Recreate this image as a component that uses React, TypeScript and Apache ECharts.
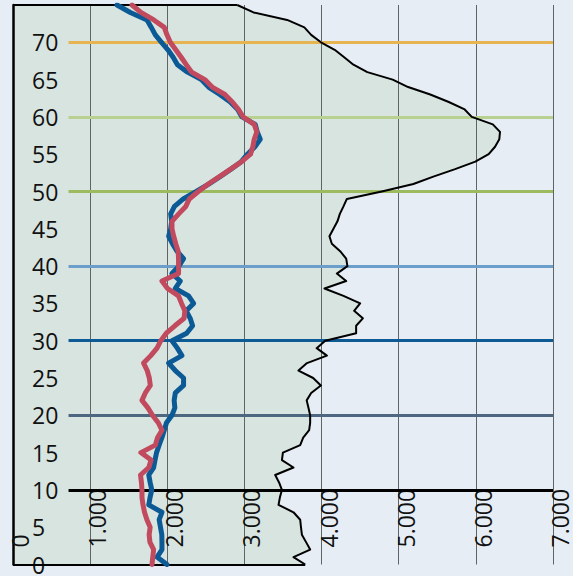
import { useEffect, useRef } from "react";
import * as echarts from "echarts";

const ages = [
  "0", "1", "2", "3", "4", "5", "6", "7", "8", "9",
  "10", "11", "12", "13", "14", "15", "16", "17", "18", "19",
  "20", "21", "22", "23", "24", "25", "26", "27", "28", "29",
  "30", "31", "32", "33", "34", "35", "36", "37", "38", "39",
  "40", "41", "42", "43", "44", "45", "46", "47", "48", "49",
  "50", "51", "52", "53", "54", "55", "56", "57", "58", "59",
  "60", "61", "62", "63", "64", "65", "66", "67", "68", "69",
  "70", "71", "72", "73", "74", "75",
];

const totalPopulation = [
  3788, 3636, 3852, 3799, 3745, 3733, 3723, 3636, 3442, 3460,
  3486, 3449, 3399, 3636, 3486, 3499, 3723, 3762, 3839, 3852,
  3852, 3830, 3807, 3865, 3991, 3891, 3701, 3811, 4069, 3937,
  4047, 4448, 4448, 4535, 4422, 4500, 4284, 4038, 4319, 4198,
  4335, 4319, 4241, 4133, 4102, 4154, 4206, 4237, 4284, 4328,
  4781, 5190, 5449, 5731, 5993, 6166, 6249, 6304, 6313, 6220,
  5947, 5855, 5649, 5409, 5122, 4922, 4593, 4413, 4293, 4170,
  3992, 3865, 3777, 3554, 3118, 2907,
];

const bluePopulation = [
  1996, 1867, 1931, 1931, 1929, 1912, 1895, 1931, 1760, 1777,
  1799, 1778, 1760, 1823, 1841, 1861, 1894, 1930, 1960, 1990,
  2060, 2098, 2089, 2104, 2211, 2211, 2104, 2017, 2190, 2130,
  2061, 2251, 2328, 2297, 2246, 2341, 2276, 2104, 2168, 2061,
  2150, 2211, 2126, 2067, 2018, 2044, 2057, 2044, 2093, 2207,
  2376, 2536, 2684, 2826, 2959, 3039, 3136, 3205, 3166, 3140,
  2968, 2913, 2816, 2680, 2535, 2442, 2262, 2132, 2076, 2008,
  1925, 1845, 1793, 1737, 1521, 1348,
];

const redPopulation = [
  1802, 1812, 1823, 1775, 1765, 1778, 1736, 1705, 1685, 1672,
  1672, 1665, 1653, 1760, 1790, 1658, 1845, 1873, 1931, 1883,
  1808, 1749, 1672, 1715, 1780, 1767, 1740, 1693, 1786, 1867,
  1916, 1987, 2098, 2218, 2227, 2185, 2146, 2003, 1931, 2146,
  2146, 2146, 2141, 2110, 2083, 2061, 2061, 2148, 2240, 2285,
  2402, 2532, 2676, 2822, 2964, 3079, 3109, 3127, 3161, 3127,
  2982, 2922, 2843, 2747, 2582, 2486, 2316, 2246, 2180, 2110,
  2039, 1996, 1961, 1825, 1658, 1543,
];

const referenceAges = [70, 60, 50, 40, 30, 20, 10];
const referenceColors = ["#e6b451", "#b9d190", "#9cbb5f", "#6b9ecb", "#0d5a95", "#4d6781", "#000000"];
const referenceStart = 720;
const xMax = 7000;
const xStep = 1000;

export default function App() {
  const ref = useRef<HTMLDivElement>(null);

  useEffect(() => {
    if (!ref.current) return;
    const chart = echarts.init(ref.current, null, { renderer: "svg" });
    const font = "'Open Sans', 'Noto Sans', sans-serif";
    const lastAge = ages.length - 1;

    chart.setOption({
      animation: false,
      backgroundColor: "#e6edf4",
      grid: { left: 13, right: 20, top: 5, bottom: 4, containLabel: false },
      xAxis: {
        type: "value",
        z: 4,
        min: 0,
        max: xMax,
        interval: xStep,
        axisLine: { show: false },
        axisTick: { show: false },
        splitLine: { show: true, lineStyle: { color: "#5f6466", width: 1 } },
        axisLabel: {
          rotate: 90,
          align: "left",
          verticalAlign: "top",
          lineHeight: 14,
          margin: -17,
          showMinLabel: true,
          showMaxLabel: true,
          fontSize: 23,
          color: "#111",
          fontFamily: font,
          formatter: (v: number) => (v === 0 ? "0" : `${v / 1000}.000`),
        },
      },
      yAxis: {
        type: "category",
        z: 4,
        data: ages,
        boundaryGap: false,
        axisLine: { show: true, onZero: false, lineStyle: { color: "#000", width: 2.5 } },
        axisTick: { show: false },
        splitLine: { show: false },
        axisLabel: {
          inside: true,
          margin: 19,
          interval: (i: number) => i % 5 === 0 && i <= 70,
          fontSize: 23,
          color: "#111",
          fontFamily: font,
        },
      },
      series: [
        {
          name: "area",
          type: "line",
          data: totalPopulation,
          showSymbol: false,
          silent: true,
          z: 1,
          lineStyle: { width: 0 },
          areaStyle: { color: "#d8e4e0", opacity: 1 },
          markLine: {
            silent: true,
            z: 5,
            symbol: "none",
            label: { show: false },
            data: referenceAges.map((a, i) => [
              { coord: [referenceStart, a], lineStyle: { color: referenceColors[i], width: 3, type: "solid" } },
              { coord: [xMax, a] },
            ]),
          },
        },
        {
          name: "total",
          type: "line",
          data: totalPopulation,
          showSymbol: false,
          silent: true,
          clip: false,
          z: 10,
          lineStyle: { color: "#000", width: 2, join: "round" },
          markLine: {
            silent: true,
            z: 10,
            symbol: "none",
            label: { show: false },
            lineStyle: { color: "#000", width: 2, type: "solid" },
            data: [
              [{ coord: [0, lastAge] }, { coord: [totalPopulation[lastAge], lastAge] }],
              [{ coord: [0, 0] }, { coord: [totalPopulation[0], 0] }],
            ],
          },
        },
        {
          name: "blue",
          type: "line",
          data: bluePopulation,
          showSymbol: false,
          silent: true,
          z: 10,
          lineStyle: { color: "#0b5a96", width: 5, join: "round", cap: "round" },
        },
        {
          name: "red",
          type: "line",
          data: redPopulation,
          showSymbol: false,
          silent: true,
          z: 10,
          lineStyle: { color: "#c14a5e", width: 5, join: "round", cap: "round" },
        },
      ],
    });

    return () => chart.dispose();
  }, []);

  return (
    <div
      ref={ref}
      style={{ position: "fixed", left: 0, top: 0, width: 573, height: 576 }}
    />
  );
}
